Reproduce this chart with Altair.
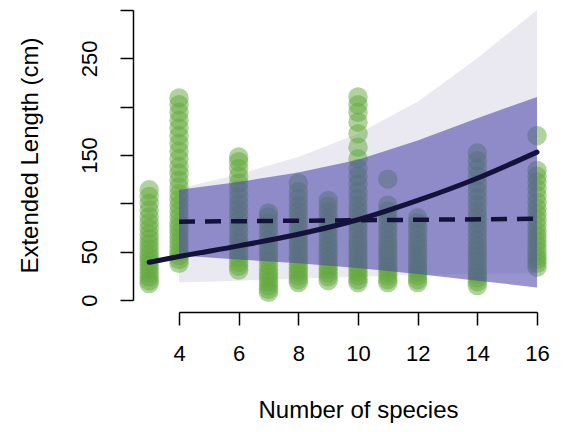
import altair as alt
import pandas as pd

# ---- data ----
species_cols = [3, 4, 6, 7, 8, 9, 10, 11, 12, 14, 16]
lengths = [
    [17, 20, 24, 28, 32, 36, 40, 44, 48, 53, 58, 63, 68, 74, 80, 86, 93, 100, 107, 114],
    [38, 42, 46, 50, 55, 60, 65, 70, 75, 80, 86, 92, 98, 104, 110, 117, 124, 131, 138, 146,
     154, 162, 170, 178, 186, 194, 202, 209],
    [31, 35, 39, 44, 49, 54, 59, 64, 70, 76, 82, 88, 94, 100, 107, 114, 121, 128, 136, 143, 148],
    [8, 11, 15, 19, 23, 27, 31, 36, 41, 46, 51, 56, 62, 68, 74, 80, 86, 90],
    [18, 21, 25, 29, 33, 37, 42, 47, 52, 57, 62, 68, 74, 80, 86, 92, 98, 105, 112, 121],
    [20, 24, 28, 32, 36, 41, 46, 51, 56, 61, 67, 73, 79, 85, 91, 97, 103],
    [18, 21, 25, 29, 33, 37, 42, 47, 52, 57, 62, 68, 74, 80, 86, 92, 98, 105, 112, 120,
     128, 136, 146, 158, 172, 184, 194, 202, 210],
    [18, 21, 25, 29, 33, 37, 42, 47, 52, 57, 62, 68, 74, 80, 86, 92, 98, 125],
    [18, 21, 25, 29, 33, 37, 42, 47, 52, 57, 62, 68, 74, 80, 85],
    [15, 19, 23, 27, 31, 36, 41, 46, 51, 56, 62, 68, 74, 80, 86, 92, 99, 106, 113, 120,
     128, 136, 144, 152],
    [34, 38, 42, 46, 51, 56, 61, 66, 71, 77, 83, 89, 95, 101, 108, 115, 122, 128, 134, 170],
]

band_x = [4, 6, 8, 10, 12, 14, 16]
grey_lo = [18, 20, 22, 24, 26, 27, 28]
grey_hi = [115, 130, 148, 172, 205, 250, 300]
purple_lo = [46, 42, 38, 33, 27, 20, 13]
purple_hi = [114, 122, 132, 145, 165, 188, 210]

fit_x = [3, 4, 6, 8, 10, 12, 14, 16]
fit_y = [39, 45, 56, 68, 83, 103, 126, 153]

null_x = [4, 16]
null_y = [81, 84]

x_ticks = [4, 6, 8, 10, 12, 14, 16]
y_ticks = [0, 50, 100, 150, 200, 250, 300]

# ---- tables ----
pts = pd.DataFrame(
    [{"species": s, "length": v} for s, vals in zip(species_cols, lengths) for v in vals]
)
grey = pd.DataFrame({"species": band_x, "lo": grey_lo, "hi": grey_hi})
purple = pd.DataFrame({"species": band_x, "lo": purple_lo, "hi": purple_hi})
fit = pd.DataFrame({"species": fit_x, "length": fit_y})
null = pd.DataFrame({"species": null_x, "length": null_y})

FONT = "Liberation Sans"
xs = alt.Scale(domain=[4, 16], nice=False, zero=False)
ys = alt.Scale(domain=[0, 300], nice=False, zero=False)

x_axis = alt.Axis(
    values=x_ticks, title="Number of species", offset=12, tickSize=13,
    domainColor="black", tickColor="black", domainWidth=1.5, tickWidth=1.5,
    labelFont=FONT, labelFontSize=22, labelColor="black", labelPadding=18,
    titleFont=FONT, titleFontSize=24, titleFontWeight="normal", titleColor="black",
    titlePadding=34, grid=False, labelFlush=False,
)
y_axis = alt.Axis(
    values=y_ticks, title="Extended Length (cm)", offset=46, tickSize=13,
    domainColor="black", tickColor="black", domainWidth=1.5, tickWidth=1.5,
    labelFont=FONT, labelFontSize=22, labelColor="black", labelPadding=19,
    labelAngle=270, labelAlign="center", labelBaseline="bottom",
    labelExpr="(datum.value == 100 || datum.value == 200 || datum.value == 300) ? '' : datum.label",
    titleFont=FONT, titleFontSize=24, titleFontWeight="normal", titleColor="black",
    titlePadding=36, grid=False, labelFlush=False,
)

grey_band = alt.Chart(grey).mark_area(color="#e6e4ee", opacity=0.85).encode(
    x=alt.X("species:Q", scale=xs, axis=x_axis),
    y=alt.Y("lo:Q", scale=ys, axis=y_axis), y2="hi:Q"
)
points = alt.Chart(pts).mark_circle(size=380, color="#62a83c", opacity=0.5).encode(
    x=alt.X("species:Q", scale=xs),
    y=alt.Y("length:Q", scale=ys),
)
purple_band = alt.Chart(purple).mark_area(color="#4e47ab", opacity=0.58).encode(
    x=alt.X("species:Q", scale=xs), y=alt.Y("lo:Q", scale=ys), y2="hi:Q"
)
fit_line = alt.Chart(fit).mark_line(color="#14123a", strokeWidth=5, interpolate="monotone", strokeCap="round").encode(
    x=alt.X("species:Q", scale=xs), y=alt.Y("length:Q", scale=ys)
)
null_line = alt.Chart(null).mark_line(color="#14123a", strokeWidth=4.5, strokeDash=[16, 10]).encode(
    x=alt.X("species:Q", scale=xs), y=alt.Y("length:Q", scale=ys)
)

chart = alt.layer(grey_band, points, purple_band, fit_line, null_line).properties(
    width=358, height=290,
    autosize=alt.AutoSizeParams(type="none"),
    padding={"left": 179, "top": 10, "right": 27, "bottom": 132},
    background="white",
).configure_view(strokeOpacity=0)

chart.save("out.html", embed_options={"renderer": "svg", "actions": False})
